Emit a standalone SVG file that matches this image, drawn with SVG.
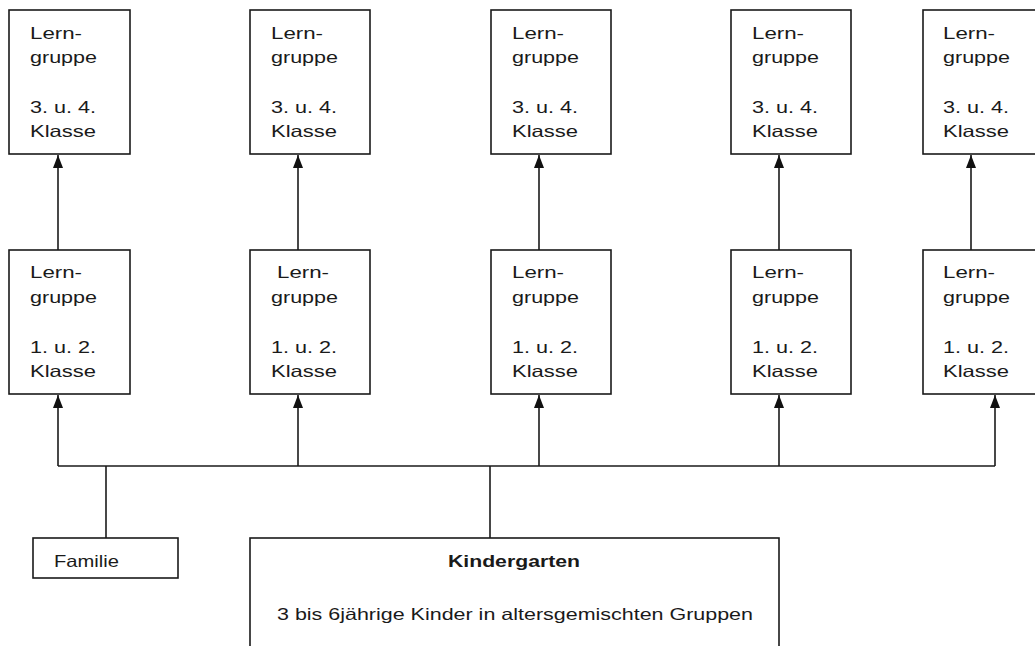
<svg xmlns="http://www.w3.org/2000/svg" width="1035" height="646" viewBox="0 0 1035 646">
<defs>
<style>
.box{fill:#fff;stroke:#1a1a1a;stroke-width:1.6}
.t{font-family:"Liberation Sans",Arial,sans-serif;font-size:16.5px;fill:#1a1a1a}
.b{font-weight:bold}
.c{fill:none;stroke:#1a1a1a;stroke-width:1.6}
</style>
<marker id="ah" viewBox="0 0 13 10" refX="13" refY="5" markerWidth="13" markerHeight="10" markerUnits="userSpaceOnUse" orient="auto">
<path d="M13,5 L0,0 L0,10 Z" fill="#111"/>
</marker>
</defs>
<rect width="1035" height="646" fill="#fff"/>
<g id="connectors">
<path class="c" d="M58,250 V155" marker-end="url(#ah)"/>
<path class="c" d="M298,250 V155" marker-end="url(#ah)"/>
<path class="c" d="M539,250 V155" marker-end="url(#ah)"/>
<path class="c" d="M779,250 V155" marker-end="url(#ah)"/>
<path class="c" d="M971,250 V155" marker-end="url(#ah)"/>
<path class="c" d="M58,466 V395" marker-end="url(#ah)"/>
<path class="c" d="M298,466 V395" marker-end="url(#ah)"/>
<path class="c" d="M539,466 V395" marker-end="url(#ah)"/>
<path class="c" d="M779,466 V395" marker-end="url(#ah)"/>
<path class="c" d="M995,466 V395" marker-end="url(#ah)"/>
<path class="c" d="M58,466 H995"/>
<path class="c" d="M106,466 V538"/>
<path class="c" d="M490,466 V538"/>
</g>
<g id="t1"><rect class="box" x="9" y="10" width="121" height="144"/>
<text class="t" x="30" y="39" textLength="52" lengthAdjust="spacingAndGlyphs">Lern-</text>
<text class="t" x="30" y="63" textLength="67" lengthAdjust="spacingAndGlyphs">gruppe</text>
<text class="t" x="30" y="113" textLength="66" lengthAdjust="spacingAndGlyphs">3. u. 4.</text>
<text class="t" x="30" y="137" textLength="66" lengthAdjust="spacingAndGlyphs">Klasse</text></g>
<g id="t2"><rect class="box" x="250" y="10" width="120" height="144"/>
<text class="t" x="271" y="39" textLength="52" lengthAdjust="spacingAndGlyphs">Lern-</text>
<text class="t" x="271" y="63" textLength="67" lengthAdjust="spacingAndGlyphs">gruppe</text>
<text class="t" x="271" y="113" textLength="66" lengthAdjust="spacingAndGlyphs">3. u. 4.</text>
<text class="t" x="271" y="137" textLength="66" lengthAdjust="spacingAndGlyphs">Klasse</text></g>
<g id="t3"><rect class="box" x="491" y="10" width="120" height="144"/>
<text class="t" x="512" y="39" textLength="52" lengthAdjust="spacingAndGlyphs">Lern-</text>
<text class="t" x="512" y="63" textLength="67" lengthAdjust="spacingAndGlyphs">gruppe</text>
<text class="t" x="512" y="113" textLength="66" lengthAdjust="spacingAndGlyphs">3. u. 4.</text>
<text class="t" x="512" y="137" textLength="66" lengthAdjust="spacingAndGlyphs">Klasse</text></g>
<g id="t4"><rect class="box" x="731" y="10" width="120" height="144"/>
<text class="t" x="752" y="39" textLength="52" lengthAdjust="spacingAndGlyphs">Lern-</text>
<text class="t" x="752" y="63" textLength="67" lengthAdjust="spacingAndGlyphs">gruppe</text>
<text class="t" x="752" y="113" textLength="66" lengthAdjust="spacingAndGlyphs">3. u. 4.</text>
<text class="t" x="752" y="137" textLength="66" lengthAdjust="spacingAndGlyphs">Klasse</text></g>
<g id="t5"><rect class="box" x="923" y="10" width="121" height="144"/>
<text class="t" x="943" y="39" textLength="52" lengthAdjust="spacingAndGlyphs">Lern-</text>
<text class="t" x="943" y="63" textLength="67" lengthAdjust="spacingAndGlyphs">gruppe</text>
<text class="t" x="943" y="113" textLength="66" lengthAdjust="spacingAndGlyphs">3. u. 4.</text>
<text class="t" x="943" y="137" textLength="66" lengthAdjust="spacingAndGlyphs">Klasse</text></g>
<g id="b1"><rect class="box" x="9" y="250" width="121" height="144"/>
<text class="t" x="30" y="278" textLength="52" lengthAdjust="spacingAndGlyphs">Lern-</text>
<text class="t" x="30" y="303" textLength="67" lengthAdjust="spacingAndGlyphs">gruppe</text>
<text class="t" x="30" y="353" textLength="66" lengthAdjust="spacingAndGlyphs">1. u. 2.</text>
<text class="t" x="30" y="377" textLength="66" lengthAdjust="spacingAndGlyphs">Klasse</text></g>
<g id="b2"><rect class="box" x="250" y="250" width="120" height="144"/>
<text class="t" x="277" y="278" textLength="52" lengthAdjust="spacingAndGlyphs">Lern-</text>
<text class="t" x="271" y="303" textLength="67" lengthAdjust="spacingAndGlyphs">gruppe</text>
<text class="t" x="271" y="353" textLength="66" lengthAdjust="spacingAndGlyphs">1. u. 2.</text>
<text class="t" x="271" y="377" textLength="66" lengthAdjust="spacingAndGlyphs">Klasse</text></g>
<g id="b3"><rect class="box" x="491" y="250" width="120" height="144"/>
<text class="t" x="512" y="278" textLength="52" lengthAdjust="spacingAndGlyphs">Lern-</text>
<text class="t" x="512" y="303" textLength="67" lengthAdjust="spacingAndGlyphs">gruppe</text>
<text class="t" x="512" y="353" textLength="66" lengthAdjust="spacingAndGlyphs">1. u. 2.</text>
<text class="t" x="512" y="377" textLength="66" lengthAdjust="spacingAndGlyphs">Klasse</text></g>
<g id="b4"><rect class="box" x="731" y="250" width="120" height="144"/>
<text class="t" x="752" y="278" textLength="52" lengthAdjust="spacingAndGlyphs">Lern-</text>
<text class="t" x="752" y="303" textLength="67" lengthAdjust="spacingAndGlyphs">gruppe</text>
<text class="t" x="752" y="353" textLength="66" lengthAdjust="spacingAndGlyphs">1. u. 2.</text>
<text class="t" x="752" y="377" textLength="66" lengthAdjust="spacingAndGlyphs">Klasse</text></g>
<g id="b5"><rect class="box" x="923" y="250" width="121" height="144"/>
<text class="t" x="943" y="278" textLength="52" lengthAdjust="spacingAndGlyphs">Lern-</text>
<text class="t" x="943" y="303" textLength="67" lengthAdjust="spacingAndGlyphs">gruppe</text>
<text class="t" x="943" y="353" textLength="66" lengthAdjust="spacingAndGlyphs">1. u. 2.</text>
<text class="t" x="943" y="377" textLength="66" lengthAdjust="spacingAndGlyphs">Klasse</text></g>
<g id="familie"><rect class="box" x="33" y="538" width="145" height="40"/>
<text class="t" x="54" y="567" textLength="65" lengthAdjust="spacingAndGlyphs">Familie</text></g>
<g id="kindergarten"><rect class="box" x="250" y="538" width="529" height="130"/>
<text class="t b" x="448" y="567" textLength="132" lengthAdjust="spacingAndGlyphs">Kindergarten</text>
<text class="t" x="277" y="620" textLength="476" lengthAdjust="spacingAndGlyphs">3 bis 6jährige Kinder in altersgemischten Gruppen</text></g>
</svg>
